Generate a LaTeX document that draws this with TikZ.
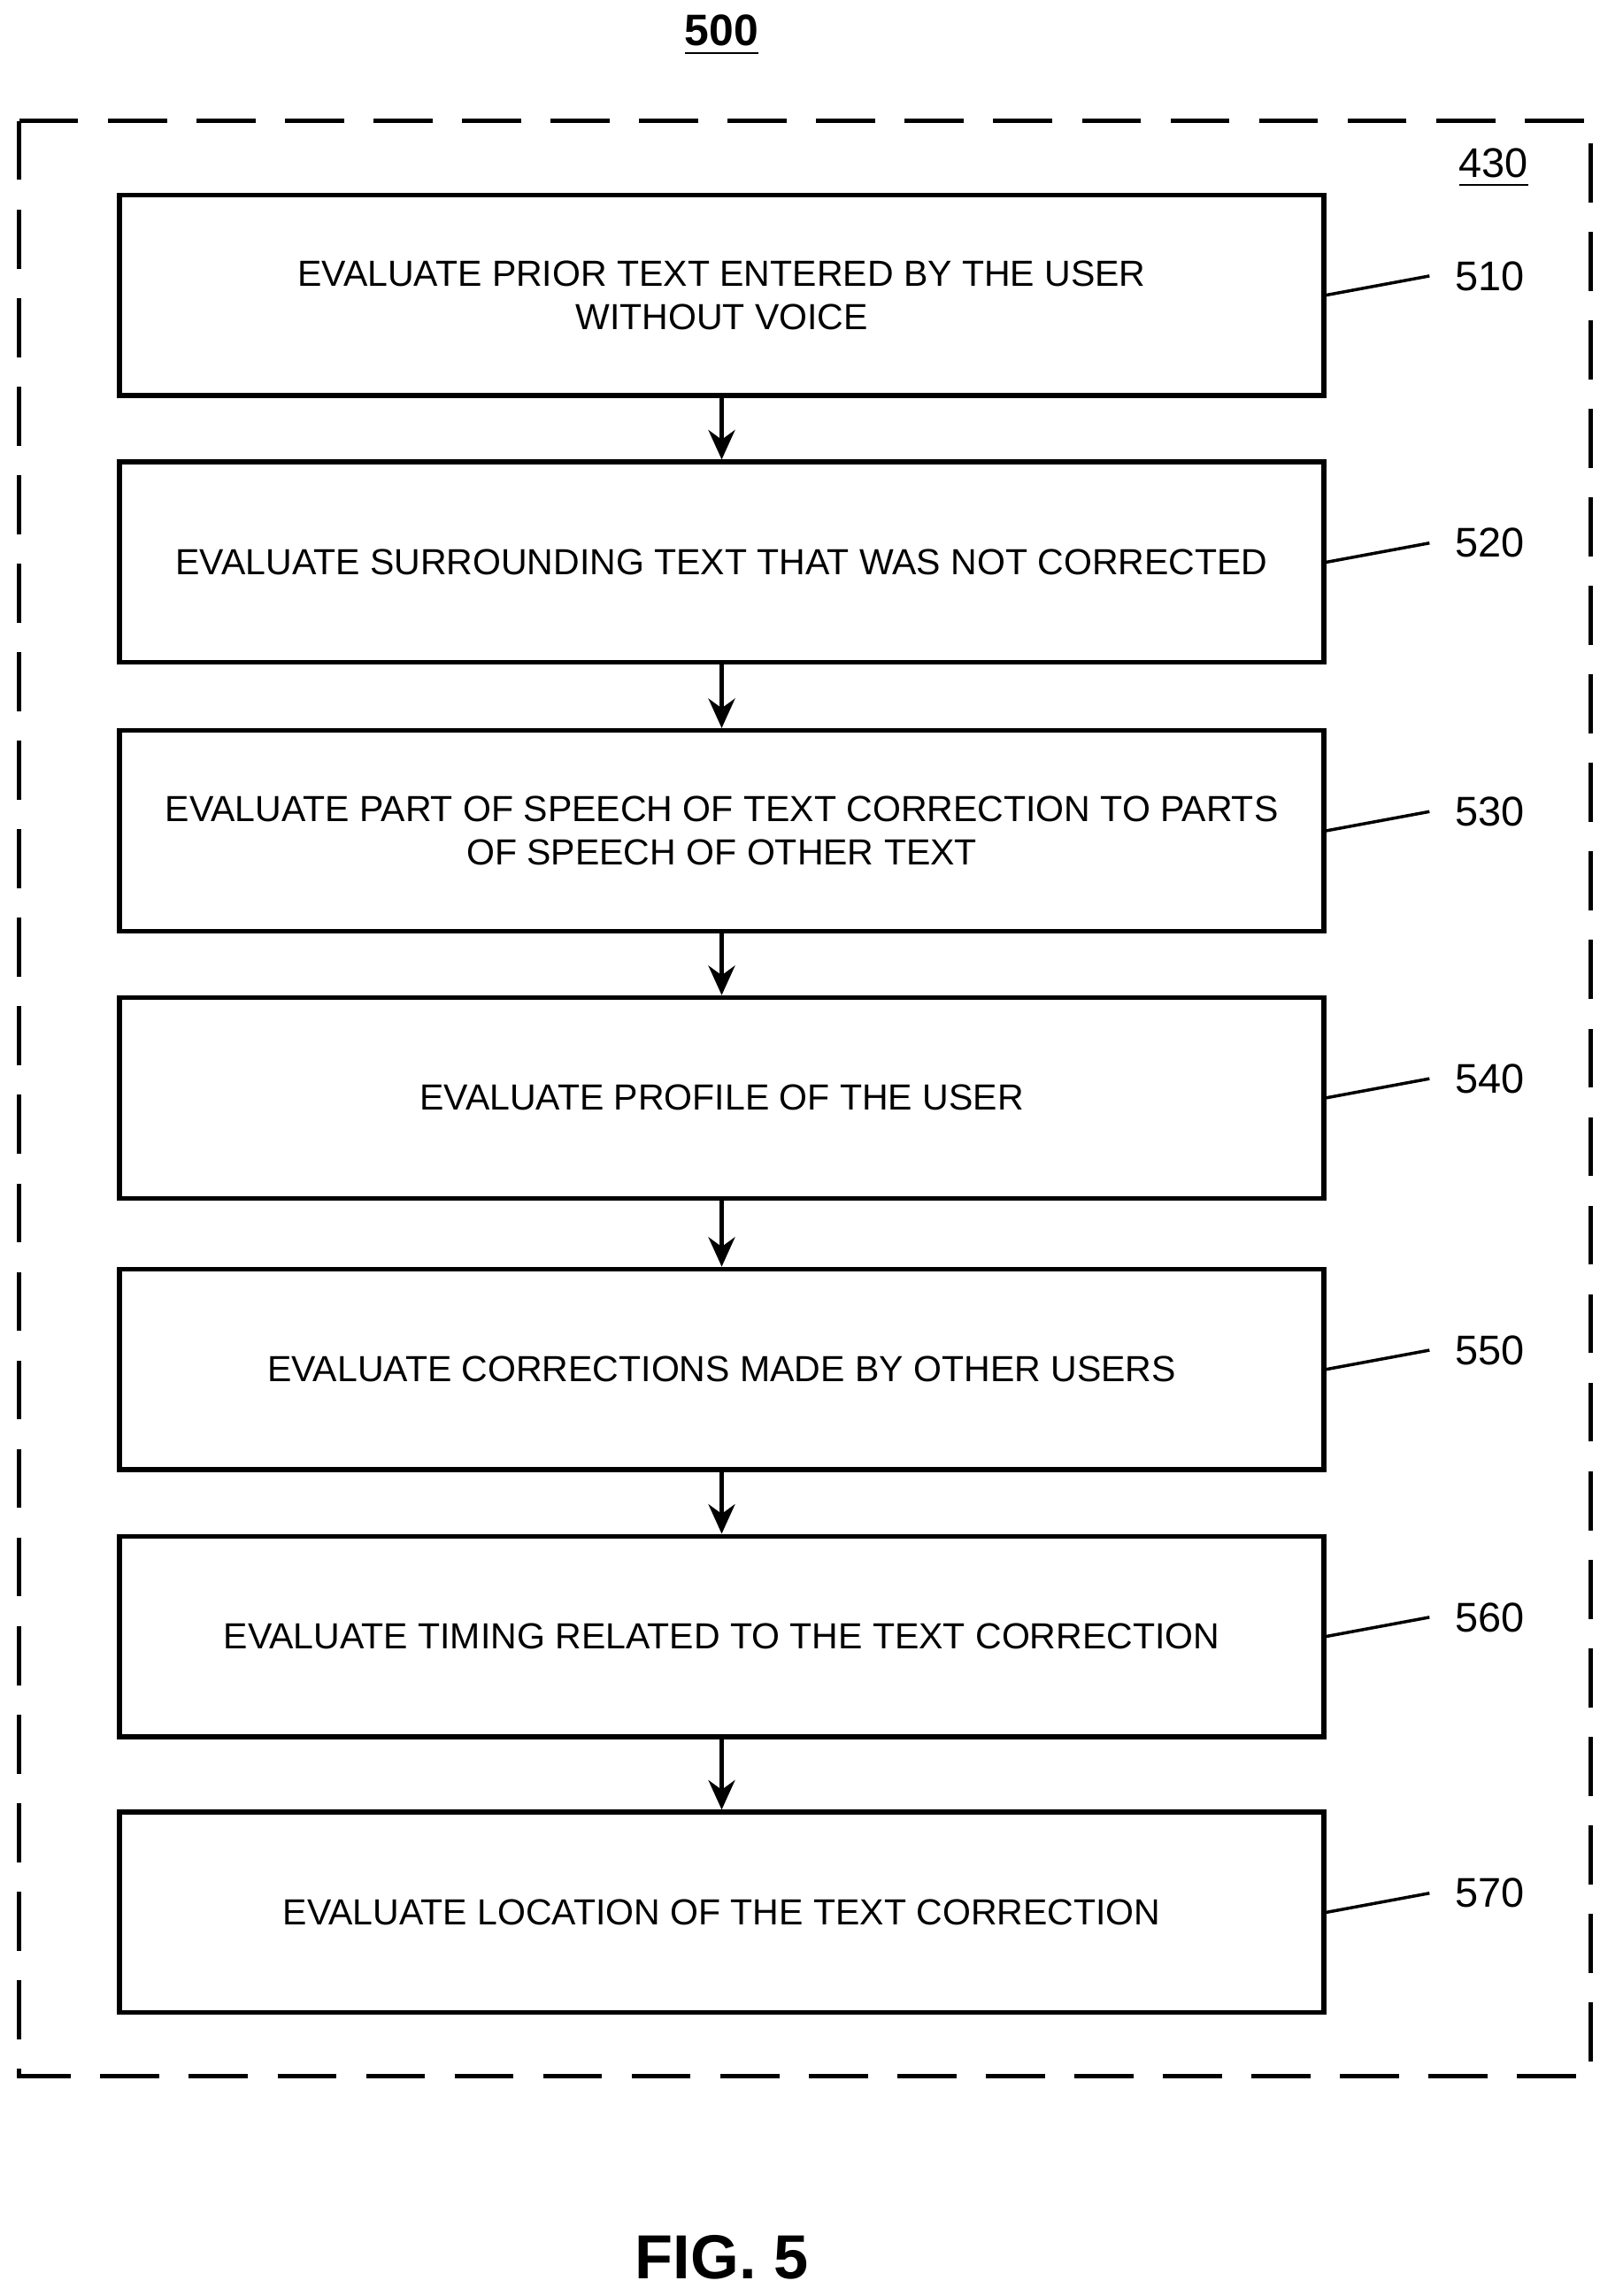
\documentclass[tikz,border=0pt]{standalone}
\usepackage{fontspec}
\setmainfont{Liberation Sans}
\usetikzlibrary{arrows.meta, positioning}
\tikzset{
    evalbox/.style={
        rectangle,
        draw=black,
        line width=0.9pt,
        minimum height=13.6mm,
        minimum width=81.6mm,
        align=center,
        font=\fontsize{7}{8.4}\selectfont
    },
    flow/.style={draw, -{Stealth[length=2mm,width=1.8mm]}, line width=0.8pt},
    tag/.style={font=\fontsize{8}{9}\selectfont, anchor=west},
    leader/.style={draw, line width=0.6pt}
}
\begin{document}
\begin{tikzpicture}[x=0.1mm, y=-0.1mm]
    \useasboundingbox (0,0) rectangle (1084,1556);

    % Title and frame
    \node[font=\fontsize{8.5}{10}\selectfont\bfseries] (fig) at (489,24) {\underline{500}};
    \draw[dashed, line width=0.9pt, dash pattern=on 4mm off 2mm] (13,82) rectangle (1078,1407);
    \node[font=\fontsize{8}{9}\selectfont] (frame) at (1012,114) {\underline{430}};

    % Steps
    \node[evalbox] (s510) at (489,200) {EVALUATE PRIOR TEXT ENTERED BY THE USER\\WITHOUT VOICE};
    \node[evalbox] (s520) at (489,381) {EVALUATE SURROUNDING TEXT THAT WAS NOT CORRECTED};
    \node[evalbox] (s530) at (489,563) {EVALUATE PART OF SPEECH OF TEXT CORRECTION TO PARTS\\OF SPEECH OF OTHER TEXT};
    \node[evalbox] (s540) at (489,744) {EVALUATE PROFILE OF THE USER};
    \node[evalbox] (s550) at (489,928) {EVALUATE CORRECTIONS MADE BY OTHER USERS};
    \node[evalbox] (s560) at (489,1109) {EVALUATE TIMING RELATED TO THE TEXT CORRECTION};
    \node[evalbox] (s570) at (489,1296) {EVALUATE LOCATION OF THE TEXT CORRECTION};

    % Connections
    \path[flow] (s510) -- (s520);
    \path[flow] (s520) -- (s530);
    \path[flow] (s530) -- (s540);
    \path[flow] (s540) -- (s550);
    \path[flow] (s550) -- (s560);
    \path[flow] (s560) -- (s570);

    % Reference numerals
    \foreach \n in {510,520,530,540,550,560,570} {
        \node[tag] (t\n) at ([xshift=7.5mm, yshift=1.3mm]s\n.east) {\n};
        \path[leader] (s\n.east) -- ([xshift=-0.5mm]t\n.west);
    }

    \node[font=\fontsize{12}{14}\selectfont\bfseries] (cap) at (489,1530) {FIG. 5};
\end{tikzpicture}
\end{document}
